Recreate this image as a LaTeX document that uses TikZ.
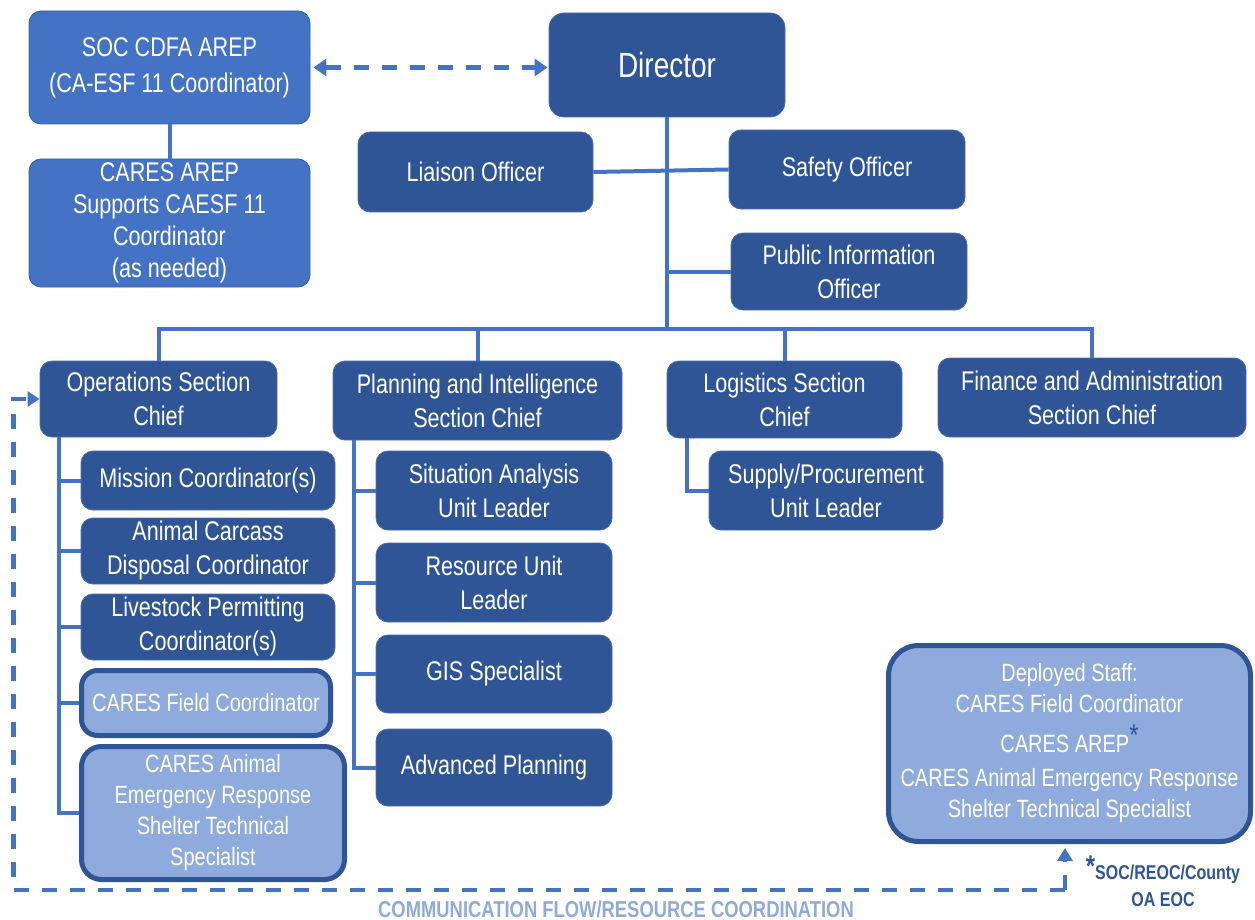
\documentclass[tikz,border=0pt]{standalone}
\usepackage{fontspec}
\setmainfont{Liberation Sans}[FakeStretch=0.8]
\usetikzlibrary{arrows.meta}
\definecolor{dk}{HTML}{2F5597}
\definecolor{md}{HTML}{4472C4}
\definecolor{lt}{HTML}{8FAADC}
\definecolor{ln}{HTML}{4472C4}
\definecolor{edge}{HTML}{4A6DB0}
\begin{document}
\begin{tikzpicture}[x=1pt,y=-1pt,
  base/.style={rounded corners=12pt, inner sep=0pt, align=center, text=white, font=\fontsize{27}{34}\selectfont},
  dbox/.style={base, fill=dk, draw=edge, line width=0.8pt},
  mbox/.style={base, fill=md, draw=dk!70!md, line width=0.8pt},
  lbox/.style={base, fill=lt, draw=dk, line width=5pt, rounded corners=16pt, font=\fontsize{25}{31}\selectfont},
  conn/.style={draw=ln, line width=4pt},
  flow/.style={draw=ln, line width=4.5pt, dash pattern=on 15pt off 13pt},
  lab/.style={inner sep=0pt, text=lt, font=\bfseries\fontsize{23}{27}\selectfont},
  note/.style={inner sep=0pt, align=center, text=dk, font=\bfseries\fontsize{20}{27}\selectfont}
]
\useasboundingbox (0,0) rectangle (1255,920);

% top left
\node[mbox, minimum width=281pt, minimum height=113pt, font=\fontsize{27}{36}\selectfont] (soc) at (169.5,67.5) {SOC CDFA AREP\\(CA-ESF 11 Coordinator)};
\node[mbox, minimum width=281pt, minimum height=128pt, font=\fontsize{27}{32}\selectfont] (arep) at (169.5,223) {CARES AREP\\Supports CAESF 11\\Coordinator\\(as needed)};

% director and staff
\node[dbox, rounded corners=15pt, minimum width=236pt, minimum height=104pt, font=\fontsize{35}{40}\selectfont] (dir) at (667,65) {Director};
\node[dbox, minimum width=235pt, minimum height=80pt] (liaison) at (475.5,172) {Liaison Officer};
\node[dbox, minimum width=236pt, minimum height=79pt] (safety) at (847,169.5) {Safety Officer};
\node[dbox, minimum width=236pt, minimum height=77pt] (pio) at (849,271.5) {Public Information\\Officer};

% sections
\node[dbox, minimum width=237pt, minimum height=76pt] (ops) at (158.5,399) {Operations Section\\Chief};
\node[dbox, minimum width=289pt, minimum height=79pt] (plan) at (477.5,400.5) {Planning and Intelligence\\Section Chief};
\node[dbox, minimum width=235pt, minimum height=77pt] (log) at (784.5,399.5) {Logistics Section\\Chief};
\node[dbox, minimum width=308pt, minimum height=79pt] (fin) at (1092,397.5) {Finance and Administration\\Section Chief};

% operations children
\node[dbox, minimum width=254pt, minimum height=59pt] (mission) at (208,480.5) {Mission Coordinator(s)};
\node[dbox, minimum width=254pt, minimum height=66pt] (carcass) at (208,551) {Animal Carcass\\Disposal Coordinator};
\node[dbox, minimum width=254pt, minimum height=66pt] (livestock) at (208,627) {Livestock Permitting\\Coordinator(s)};
\node[lbox, minimum width=249pt, minimum height=65pt] (field) at (206,703) {CARES Field Coordinator};
\node[lbox, rounded corners=20pt, minimum width=263pt, minimum height=133pt] (spec) at (213,813) {CARES Animal\\Emergency Response\\Shelter Technical\\Specialist};

% planning children
\node[dbox, minimum width=236pt, minimum height=79pt] (sit) at (494,490.5) {Situation Analysis\\Unit Leader};
\node[dbox, minimum width=236pt, minimum height=79pt] (res) at (494,582.5) {Resource Unit\\Leader};
\node[dbox, minimum width=236pt, minimum height=78pt] (gis) at (494,674) {GIS Specialist};
\node[dbox, minimum width=236pt, minimum height=77pt] (adv) at (494,767.5) {Advanced Planning};

% logistics child
\node[dbox, minimum width=234pt, minimum height=79pt] (supply) at (826,490.5) {Supply/Procurement\\Unit Leader};

% deployed staff
\node[lbox, rounded corners=30pt, minimum width=362pt, minimum height=196pt] (deployed) at (1069.5,743.5)
  {Deployed Staff:\\CARES Field Coordinator\\[9pt]CARES AREP\smash{\raisebox{7pt}{\textcolor{dk}{\fontsize{30}{30}\selectfont *}}}\\[3pt]CARES Animal Emergency Response\\Shelter Technical Specialist};

% labels
\node[lab] (cflow) at (616,909) {COMMUNICATION FLOW/RESOURCE COORDINATION};
\node[note] (oaeoc) at (1163,886) {\smash{\raisebox{3pt}{\fontsize{30}{30}\selectfont *}}SOC/REOC/County\\OA EOC};

% connectors
\draw[conn] (soc.south) -- (arep.north);
\coordinate (bus) at (667,329);
\draw[conn] (dir.south) -- (bus);
\draw[conn] (liaison.east) -- (safety.west);
\draw[conn] (pio.west) -- (pio.west -| bus);
\draw[conn] (ops.north) |- (bus) -| (fin.north);
\draw[conn] (plan.north) -- (plan.north |- bus);
\draw[conn] (log.north) -- (log.north |- bus);

\coordinate (opst) at ([xshift=-100pt]ops.south);
\foreach \c in {mission,carcass,livestock,field,spec} \draw[conn] (opst) |- (\c.west);
\coordinate (plant) at ([xshift=-123.5pt]plan.south);
\foreach \c in {sit,res,gis,adv} \draw[conn] (plant) |- (\c.west);
\coordinate (logt) at ([xshift=-97.5pt]log.south);
\draw[conn] (logt) |- (supply.west);

% dashed flows
\draw[flow, {Triangle[length=13pt,width=17pt]}-{Triangle[length=13pt,width=17pt]}, shorten <=3pt, shorten >=1pt] (soc.east) -- (soc.east -| dir.west);
\coordinate (corner) at (1065,890);
\draw[flow, -{Triangle[length=13pt,width=15pt]}, shorten >=4pt] (corner) -- (corner |- deployed.south);
\draw[flow, -{Triangle[length=12pt,width=15pt]}] (corner) -| ([xshift=-26pt]ops.west) -- (ops.west);
\end{tikzpicture}
\end{document}
